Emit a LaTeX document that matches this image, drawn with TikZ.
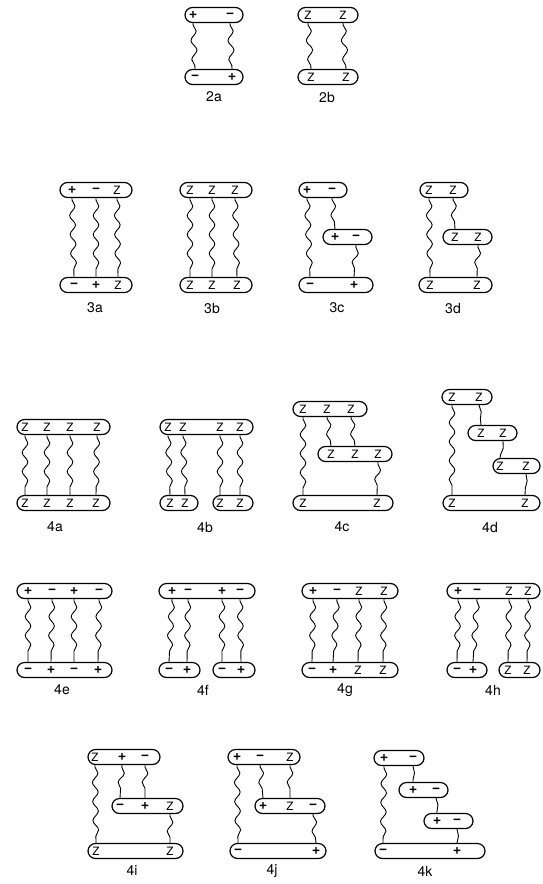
\documentclass[tikz,border=0pt]{standalone}
\usepackage{fontspec}
\setmainfont{TeX Gyre Heros}
\usetikzlibrary{decorations.pathmorphing}
\tikzset{
 pill/.style={draw, line width=1.2pt, rounded corners=7.5pt, minimum height=15pt, inner sep=0pt},
 sgn/.style={inner sep=0pt, font=\fontsize{11.5}{11.5}\selectfont},
 figlab/.style={inner sep=0pt, font=\fontsize{14}{14}\selectfont},
 wv/.style={line width=0.9pt, decorate, decoration={snake, segment length=19pt, amplitude=2.8pt, pre length=2pt, post length=2pt}},
 sw/.style={line width=0.9pt, decorate, decoration={snake, segment length=22pt, amplitude=1.5pt}}
}
\newcommand\sgplus{{\fontsize{14.5}{14.5}\selectfont\bfseries +}}
\newcommand\sgminus{{\fontsize{14.5}{14.5}\selectfont\bfseries −}}
\newcommand\pill[4]{\node[pill, minimum width={#3-#2}] (#1) at ({(#2+#3)/2},#4) {};}
\newcommand\mksg[4]{\node[sgn] (#1) at (#2,#3) {#4};}
\newcommand\wire[4]{\draw[wv] (#1#2 |- #1.south) -- (#3#4 |- #3.north);}
\newcommand\swire[4]{\draw[sw] (#1#2 |- #1.south) -- (#3#4 |- #3.north);}
\begin{document}
\begin{tikzpicture}[x=1pt,y=-1pt]
\useasboundingbox (0,0) rectangle (542,884);
% 2a
\pill{aT}{185}{243}{15} \mksg{aT1}{193}{15}{\sgplus} \mksg{aT2}{230}{15}{\sgminus}
\pill{aB}{185}{243}{77} \mksg{aB1}{195}{77}{\sgminus} \mksg{aB2}{232}{77}{\sgplus}
\wire{aT}{1}{aB}{1} \wire{aT}{2}{aB}{2}
\node[figlab] (la) at (214,97) {2a};
% 2b
\pill{bT}{298}{358}{15} \mksg{bT1}{308}{15}{Z} \mksg{bT2}{343}{15}{Z}
\pill{bB}{298}{358}{77} \mksg{bB1}{311}{77}{Z} \mksg{bB2}{346}{77}{Z}
\wire{bT}{1}{bB}{1} \wire{bT}{2}{bB}{2}
\node[figlab] (lb) at (327,97) {2b};
% 3a
\pill{cT}{60}{132}{190} \mksg{cT1}{72}{190}{\sgplus} \mksg{cT2}{96}{190}{\sgminus} \mksg{cT3}{117}{190}{Z}
\pill{cB}{60}{132}{285} \mksg{cB1}{74}{285}{\sgminus} \mksg{cB2}{96}{285}{\sgplus} \mksg{cB3}{118}{285}{Z}
\wire{cT}{1}{cB}{1} \wire{cT}{2}{cB}{2} \wire{cT}{3}{cB}{3}
\node[figlab] (lc) at (95,308) {3a};
% 3b
\pill{dT}{180}{252}{190} \mksg{dT1}{190}{190}{Z} \mksg{dT2}{212}{190}{Z} \mksg{dT3}{235}{190}{Z}
\pill{dB}{180}{252}{285} \mksg{dB1}{190}{285}{Z} \mksg{dB2}{212}{285}{Z} \mksg{dB3}{237}{285}{Z}
\wire{dT}{1}{dB}{1} \wire{dT}{2}{dB}{2} \wire{dT}{3}{dB}{3}
\node[figlab] (ld) at (212,308) {3b};
% 3c
\pill{eT}{299}{347}{190} \mksg{eT1}{307}{190}{\sgplus} \mksg{eT2}{332}{190}{\sgminus}
\pill{eM}{323}{372}{237} \mksg{eM1}{335}{237}{\sgplus} \mksg{eM2}{356}{237}{\sgminus}
\pill{eB}{299}{373}{285} \mksg{eB1}{310}{285}{\sgminus} \mksg{eB2}{354}{285}{\sgplus}
\wire{eT}{1}{eB}{1} \wire{eT}{2}{eM}{1} \wire{eM}{2}{eB}{2}
\node[figlab] (le) at (337,308) {3c};
% 3d
\pill{fT}{420}{468}{190} \mksg{fT1}{429}{190}{Z} \mksg{fT2}{453}{190}{Z}
\pill{fM}{443}{492}{237} \mksg{fM1}{455}{237}{Z} \mksg{fM2}{478}{237}{Z}
\pill{fB}{419}{492}{285} \mksg{fB1}{430}{285}{Z} \mksg{fB2}{477}{285}{Z}
\wire{fT}{1}{fB}{1} \wire{fT}{2}{fM}{1} \wire{fM}{2}{fB}{2}
\node[figlab] (lf) at (453,308) {3d};
% 4a
\pill{gT}{17}{110}{427} \mksg{gT1}{25}{427}{Z} \mksg{gT2}{47}{427}{Z} \mksg{gT3}{70}{427}{Z} \mksg{gT4}{97}{427}{Z}
\pill{gB}{17}{110}{503} \mksg{gB1}{25}{503}{Z} \mksg{gB2}{47}{503}{Z} \mksg{gB3}{70}{503}{Z} \mksg{gB4}{96}{503}{Z}
\wire{gT}{1}{gB}{1} \wire{gT}{2}{gB}{2} \wire{gT}{3}{gB}{3} \wire{gT}{4}{gB}{4}
\node[figlab] (lg) at (55,527) {4a};
% 4b
\pill{hT}{160}{253}{427} \mksg{hT1}{168}{427}{Z} \mksg{hT2}{183}{427}{Z} \mksg{hT3}{220}{427}{Z} \mksg{hT4}{240}{427}{Z}
\pill{hB}{160}{198}{503} \mksg{hB1}{170}{503}{Z} \mksg{hB2}{185}{503}{Z}
\pill{hC}{213}{253}{503} \mksg{hC1}{220}{503}{Z} \mksg{hC2}{240}{503}{Z}
\wire{hT}{1}{hB}{1} \wire{hT}{2}{hB}{2} \wire{hT}{3}{hC}{1} \wire{hT}{4}{hC}{2}
\node[figlab] (lh) at (205,527) {4b};
% 4c
\pill{iT}{293}{367}{409} \mksg{iT1}{303}{409}{Z} \mksg{iT2}{327}{409}{Z} \mksg{iT3}{351}{409}{Z}
\pill{iM}{318}{392}{454} \mksg{iM1}{331}{454}{Z} \mksg{iM2}{355}{454}{Z} \mksg{iM3}{378}{454}{Z}
\pill{iB}{293}{393}{503} \mksg{iB1}{303}{503}{Z} \mksg{iB2}{377}{503}{Z}
\wire{iT}{1}{iB}{1} \wire{iT}{2}{iM}{1} \wire{iT}{3}{iM}{2} \wire{iM}{3}{iB}{2}
\node[figlab] (li) at (342,527) {4c};
% 4d
\pill{jT}{442}{492}{397} \mksg{jT1}{452}{397}{Z} \mksg{jT2}{479}{397}{Z}
\pill{jM}{468}{517}{433} \mksg{jM1}{481}{433}{Z} \mksg{jM2}{503}{433}{Z}
\pill{jN}{493}{540}{466} \mksg{jN1}{500}{466}{Z} \mksg{jN2}{526}{466}{Z}
\pill{jB}{443}{540}{503} \mksg{jB1}{452}{503}{Z} \mksg{jB2}{525}{503}{Z}
\wire{jT}{1}{jB}{1} \swire{jT}{2}{jM}{1} \swire{jM}{2}{jN}{1} \swire{jN}{2}{jB}{2}
\node[figlab] (lj) at (490,527) {4d};
% 4e
\pill{kT}{17}{112}{591} \mksg{kT1}{28}{591}{\sgplus} \mksg{kT2}{52}{591}{\sgminus} \mksg{kT3}{74}{591}{\sgplus} \mksg{kT4}{99}{591}{\sgminus}
\pill{kB}{17}{112}{670} \mksg{kB1}{28}{670}{\sgminus} \mksg{kB2}{51}{670}{\sgplus} \mksg{kB3}{74}{670}{\sgminus} \mksg{kB4}{98}{670}{\sgplus}
\wire{kT}{1}{kB}{1} \wire{kT}{2}{kB}{2} \wire{kT}{3}{kB}{3} \wire{kT}{4}{kB}{4}
\node[figlab] (lk) at (62,690) {4e};
% 4f
\pill{lT}{159}{255}{591} \mksg{lT1}{172}{591}{\sgplus} \mksg{lT2}{188}{591}{\sgminus} \mksg{lT3}{222}{591}{\sgplus} \mksg{lT4}{240}{591}{\sgminus}
\pill{lB}{159}{200}{670} \mksg{lB1}{169}{670}{\sgminus} \mksg{lB2}{187}{670}{\sgplus}
\pill{lC}{213}{255}{670} \mksg{lC1}{222}{670}{\sgminus} \mksg{lC2}{241}{670}{\sgplus}
\wire{lT}{1}{lB}{1} \wire{lT}{2}{lB}{2} \wire{lT}{3}{lC}{1} \wire{lT}{4}{lC}{2}
\node[figlab] (ll) at (203,690) {4f};
% 4g
\pill{mT}{302}{398}{591} \mksg{mT1}{313}{591}{\sgplus} \mksg{mT2}{337}{591}{\sgminus} \mksg{mT3}{359}{591}{Z} \mksg{mT4}{384}{591}{Z}
\pill{mB}{302}{398}{670} \mksg{mB1}{312}{670}{\sgminus} \mksg{mB2}{333}{670}{\sgplus} \mksg{mB3}{358}{670}{Z} \mksg{mB4}{383}{670}{Z}
\wire{mT}{1}{mB}{1} \wire{mT}{2}{mB}{2} \wire{mT}{3}{mB}{3} \wire{mT}{4}{mB}{4}
\node[figlab] (lm) at (345,690) {4g};
% 4h
\pill{nT}{447}{540}{591} \mksg{nT1}{458}{591}{\sgplus} \mksg{nT2}{477}{591}{\sgminus} \mksg{nT3}{509}{591}{Z} \mksg{nT4}{528}{591}{Z}
\pill{nB}{447}{487}{670} \mksg{nB1}{457}{670}{\sgminus} \mksg{nB2}{473}{670}{\sgplus}
\pill{nC}{499}{540}{670} \mksg{nC1}{508}{670}{Z} \mksg{nC2}{527}{670}{Z}
\wire{nT}{1}{nB}{1} \wire{nT}{2}{nB}{2} \wire{nT}{3}{nC}{1} \wire{nT}{4}{nC}{2}
\node[figlab] (ln) at (493,690) {4h};
% 4i
\pill{oT}{88}{160}{757} \mksg{oT1}{95}{757}{Z} \mksg{oT2}{122}{757}{\sgplus} \mksg{oT3}{145}{757}{\sgminus}
\pill{oM}{112}{183}{806} \mksg{oM1}{120}{806}{\sgminus} \mksg{oM2}{145}{806}{\sgplus} \mksg{oM3}{170}{806}{Z}
\pill{oB}{88}{183}{851} \mksg{oB1}{96}{851}{Z} \mksg{oB2}{170}{851}{Z}
\wire{oT}{1}{oB}{1} \wire{oT}{2}{oM}{1} \wire{oT}{3}{oM}{2} \wire{oM}{3}{oB}{2}
\node[figlab] (lo) at (132,871) {4i};
% 4j
\pill{pT}{228}{300}{757} \mksg{pT1}{237}{757}{\sgplus} \mksg{pT2}{260}{757}{\sgminus} \mksg{pT3}{290}{757}{Z}
\pill{pM}{255}{325}{806} \mksg{pM1}{263}{806}{\sgplus} \mksg{pM2}{290}{806}{Z} \mksg{pM3}{313}{806}{\sgminus}
\pill{pB}{230}{326}{851} \mksg{pB1}{238}{851}{\sgminus} \mksg{pB2}{316}{851}{\sgplus}
\wire{pT}{1}{pB}{1} \wire{pT}{2}{pM}{1} \wire{pT}{3}{pM}{2} \wire{pM}{3}{pB}{2}
\node[figlab] (lp) at (272,871) {4j};
% 4k
\pill{qT}{374}{424}{758} \mksg{qT1}{384}{758}{\sgplus} \mksg{qT2}{413}{758}{\sgminus}
\pill{qM}{399}{448}{790} \mksg{qM1}{413}{790}{\sgplus} \mksg{qM2}{436}{790}{\sgminus}
\pill{qN}{424}{473}{821} \mksg{qN1}{437}{821}{\sgplus} \mksg{qN2}{457}{821}{\sgminus}
\pill{qB}{375}{485}{851} \mksg{qB1}{383}{851}{\sgminus} \mksg{qB2}{457}{851}{\sgplus}
\wire{qT}{1}{qB}{1} \swire{qT}{2}{qM}{1} \swire{qM}{2}{qN}{1} \swire{qN}{2}{qB}{2}
\node[figlab] (lq) at (425,871) {4k};
\end{tikzpicture}
\end{document}
